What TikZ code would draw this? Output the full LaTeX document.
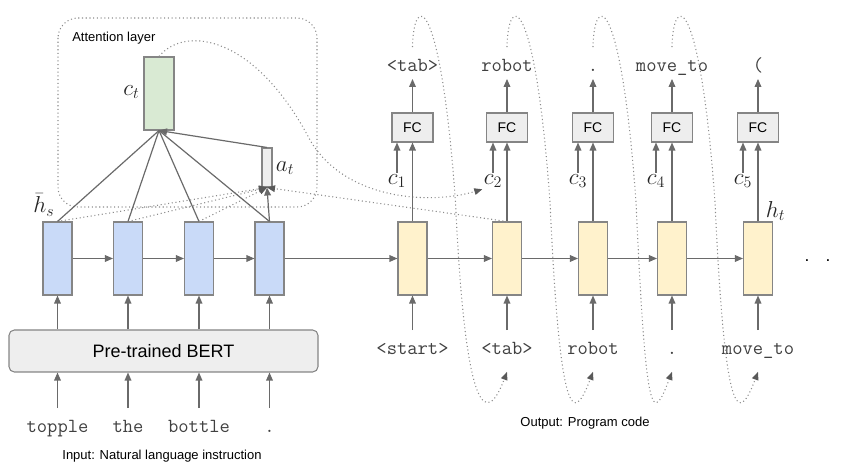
\documentclass[tikz,border=0pt]{standalone}
\usepackage{fontspec}
\setmainfont{Liberation Sans}
\usepackage{tikz}
\usetikzlibrary{arrows.meta,calc}
\definecolor{encblue}{HTML}{C9DAF8}
\definecolor{decyellow}{HTML}{FFF2CC}
\definecolor{ctxgreen}{HTML}{D9EAD3}
\definecolor{boxgray}{HTML}{EEEEEE}
\definecolor{edge}{HTML}{6A6A6A}
\definecolor{frame}{HTML}{858585}
\definecolor{inktext}{HTML}{404040}
\tikzstyle{cell}=[rectangle, draw=frame, line width=0.8pt, inner sep=0pt,
minimum width=21.75pt, minimum height=54.75pt]
\tikzstyle{encoder}=[cell, fill=encblue]
\tikzstyle{decoder}=[cell, fill=decyellow]
\tikzstyle{context}=[cell, fill=ctxgreen, minimum width=22.5pt]
\tikzstyle{weights}=[cell, fill=boxgray, minimum width=7.5pt, minimum height=29.25pt]
\tikzstyle{fc}=[rectangle, draw=frame, line width=0.8pt, fill=boxgray, inner sep=0pt,
minimum width=30.75pt, minimum height=21.75pt, font=\fontsize{10.5}{12}\selectfont]
\tikzstyle{bert}=[rectangle, rounded corners=4pt, draw=frame, line width=0.8pt, fill=boxgray,
minimum width=231.75pt, minimum height=31.5pt, font=\fontsize{13.5}{16}\selectfont]
\tikzstyle{token}=[text=inktext, inner xsep=0pt, inner ysep=11.5pt, text height=7pt, text depth=1pt,
font=\ttfamily\fontsize{15}{17}\selectfont]
\tikzstyle{sym}=[inner sep=1pt, text=black!85, font=\fontsize{18.5}{20}\selectfont]
\tikzstyle{caption}=[inner sep=0pt, font=\fontsize{9.75}{12}\selectfont]
\tikzstyle{conn}=[draw=edge, line width=0.9pt]
\tikzstyle{flow}=[conn, -{Triangle[length=6pt,width=5pt]}]
\tikzstyle{feedback}=[draw=black!45, line width=0.8pt, dotted, -{Triangle[length=6pt,width=5pt,color=black!65]}]

\begin{document}
\begin{tikzpicture}[x=0.75pt, y=-0.75pt]
\useasboundingbox (0,0) rectangle (844,463);

% attention layer
\draw[draw=black!45, line width=0.8pt, dotted, rounded corners=15pt] (58,18) rectangle (317,207);
\node (attlabel)[caption, anchor=west] at (72,38) {Attention layer};
\node (ct)[context] at (159,93.5) {};
\node (ctlabel)[sym] at (131.5,92) {$c_t$};
\node (at)[weights] at (267,167.5) {};
\node (atlabel)[sym] at (285,168) {$a_t$};

% encoder side
\node (bert)[bert] at (163.5,351) {Pre-trained BERT};
\node (e1)[encoder] at (57.5,258.5) {};
\node (e2)[encoder] at (128,258.5) {};
\node (e3)[encoder] at (199,258.5) {};
\node (e4)[encoder] at (269.5,258.5) {};
\node (hs)[sym] at (44,205) {$\bar{h}_s$};
\node (w1)[token] at (57.5,429) {topple};
\node (w2)[token] at (128,429) {the};
\node (w3)[token] at (199,429) {bottle};
\node (w4)[token] at (269.5,429) {.};
\node (incap)[caption] at (162,456) {Input: Natural language instruction};

% decoder side
\node (d1)[decoder] at (412.5,258.5) {};
\node (d2)[decoder] at (507,258.5) {};
\node (d3)[decoder] at (593,258.5) {};
\node (d4)[decoder] at (672,258.5) {};
\node (d5)[decoder] at (758,258.5) {};
\node (ht)[sym] at (775.5,211) {$h_t$};
\node (more)[anchor=base, inner sep=0pt, font=\fontsize{13}{15}\selectfont] at (817.5,262) {.\hspace{12pt}.};
\node (f1)[fc] at (412.5,127.5) {FC};
\node (f2)[fc] at (507,127.5) {FC};
\node (f3)[fc] at (593,127.5) {FC};
\node (f4)[fc] at (672,127.5) {FC};
\node (f5)[fc] at (758,127.5) {FC};
\node (c1)[sym] at (397,181) {$c_1$};
\node (c2)[sym] at (493,181) {$c_2$};
\node (c3)[sym] at (578,181) {$c_3$};
\node (c4)[sym] at (656,181) {$c_4$};
\node (c5)[sym] at (743,181) {$c_5$};
\node (o1)[token] at (412.5,68) {<tab>};
\node (o2)[token] at (507,68) {robot};
\node (o3)[token] at (593,68) {.};
\node (o4)[token] at (672,68) {move\_to};
\node (o5)[token] at (758,68) {(};
\node (i1)[token] at (412.5,351) {<start>};
\node (i2)[token] at (507,351) {<tab>};
\node (i3)[token] at (593,351) {robot};
\node (i4)[token] at (672,351) {.};
\node (i5)[token] at (758,351) {move\_to};
\node (outcap)[caption] at (585,423) {Output: Program code};

% attention connections
\draw[feedback] (e1.north) -- (at.south);
\draw[feedback] (e2.north) -- (at.south);
\draw[feedback] (e3.north) -- (at.south);
\draw[feedback] (d2.north) -- (at.south);
\draw[conn] (ct.south) -- (e1.north);
\draw[conn] (ct.south) -- (e2.north);
\draw[conn] (ct.south) -- (e3.north);
\draw[conn] (ct.south) -- (e4.north);
\draw[flow] (e4.north) -- (at.south);
\draw[flow] (at.north) -- (ct.south);
\draw[feedback] (ct.north) .. controls (185,25) and (255,35) .. (310,140)
  .. controls (345,200) and (430,205) .. (c2.south west);

% encoder arrows
\draw[flow] (w1.north) -- (w1 |- bert.south);
\draw[flow] (w2.north) -- (w2 |- bert.south);
\draw[flow] (w3.north) -- (w3 |- bert.south);
\draw[flow] (w4.north) -- (w4 |- bert.south);
\draw[flow] (bert.north -| e1) -- (e1.south);
\draw[flow] (bert.north -| e2) -- (e2.south);
\draw[flow] (bert.north -| e3) -- (e3.south);
\draw[flow] (bert.north -| e4) -- (e4.south);
\draw[flow] (e1.east) -- (e2.west);
\draw[flow] (e2.east) -- (e3.west);
\draw[flow] (e3.east) -- (e4.west);
\draw[flow] (e4.east) -- (d1.west);

% decoder arrows
\draw[flow] (d1.east) -- (d2.west);
\draw[flow] (d2.east) -- (d3.west);
\draw[flow] (d3.east) -- (d4.west);
\draw[flow] (d4.east) -- (d5.west);
\draw[flow] (i1.north) -- (d1.south);
\draw[flow] (i2.north) -- (d2.south);
\draw[flow] (i3.north) -- (d3.south);
\draw[flow] (i4.north) -- (d4.south);
\draw[flow] (i5.north) -- (d5.south);
\draw[flow] (d1.north) -- (f1.south);
\draw[flow] (d2.north) -- (f2.south);
\draw[flow] (d3.north) -- (f3.south);
\draw[flow] (d4.north) -- (f4.south);
\draw[flow] (d5.north) -- (f5.south);
\draw[flow] (c1.north) -- (c1.north |- f1.south);
\draw[flow] (c2.north) -- (c2.north |- f2.south);
\draw[flow] (c3.north) -- (c3.north |- f3.south);
\draw[flow] (c4.north) -- (c4.north |- f4.south);
\draw[flow] (c5.north) -- (c5.north |- f5.south);
\draw[flow] (f1.north) -- ([yshift=7.5pt]o1.south);
\draw[flow] (f2.north) -- ([yshift=7.5pt]o2.south);
\draw[flow] (f3.north) -- ([yshift=7.5pt]o3.south);
\draw[flow] (f4.north) -- ([yshift=7.5pt]o4.south);
\draw[flow] (f5.north) -- ([yshift=7.5pt]o5.south);

% each output is fed back as the next input
\draw[feedback] (o1.north) .. controls +(1,-55) and +(-15,-210) .. ($(o1.north)+(43,155)$)
  .. controls +(10,220) and +(-20,53) .. (i2.south);
\draw[feedback] (o2.north) .. controls +(1,-55) and +(-15,-210) .. ($(o2.north)+(43,155)$)
  .. controls +(10,220) and +(-20,53) .. (i3.south);
\draw[feedback] (o3.north) .. controls +(1,-55) and +(-15,-210) .. ($(o3.north)+(43,155)$)
  .. controls +(10,220) and +(-20,53) .. (i4.south);
\draw[feedback] (o4.north) .. controls +(1,-55) and +(-15,-210) .. ($(o4.north)+(43,155)$)
  .. controls +(10,220) and +(-20,53) .. (i5.south);
\end{tikzpicture}
\end{document}
